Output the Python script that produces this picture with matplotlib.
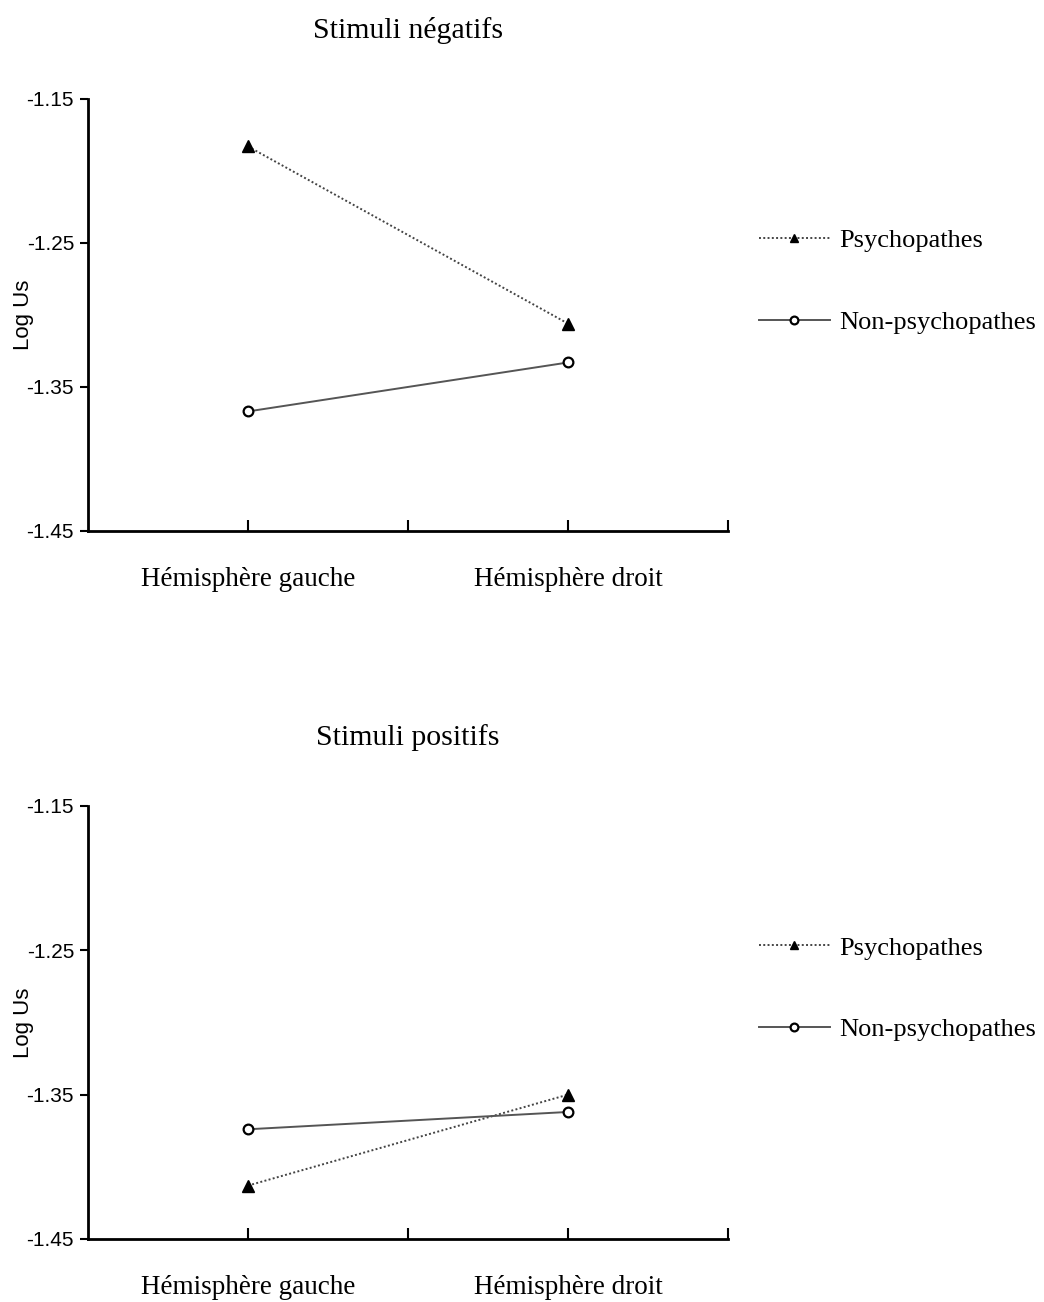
import matplotlib.pyplot as plt

# Données
hemispheres = ['Hémisphère gauche', 'Hémisphère droit']
psy_negatif = [-1.183, -1.306]
nonpsy_negatif = [-1.367, -1.333]
psy_positif = [-1.413, -1.350]
nonpsy_positif = [-1.374, -1.362]
titres = ['Stimuli négatifs', 'Stimuli positifs']
yticks = [-1.45, -1.35, -1.25, -1.15]

serif = 'Liberation Serif'
sans = 'Liberation Sans'

fig = plt.figure(figsize=(10.44, 13.02), dpi=100)
ax1 = fig.add_axes([0.0843, 0.5922, 0.613, 0.3318])
ax2 = fig.add_axes([0.0843, 0.0484, 0.613, 0.3326])

panneaux = [(ax1, psy_negatif, nonpsy_negatif, titres[0]),
            (ax2, psy_positif, nonpsy_positif, titres[1])]

x = [0, 1]
for ax, psy, nonpsy, titre in panneaux:
    ax.plot(x, psy, linestyle=(0, (1, 1.2)), color='#444444', lw=1.4,
            marker='^', markersize=8, markerfacecolor='black',
            markeredgecolor='black', label='Psychopathes')
    ax.plot(x, nonpsy, linestyle='-', color='#555555', lw=1.4,
            marker='o', markersize=7, markerfacecolor='white',
            markeredgecolor='black', markeredgewidth=1.6,
            label='Non-psychopathes')

    ax.set_xlim(-0.5, 1.5)
    ax.set_ylim(-1.45, -1.15)
    ax.set_yticks(yticks)
    ax.set_yticklabels([f'{v:.2f}' for v in yticks], fontfamily=sans, fontsize=15)
    ax.set_xticks([0, 0.5, 1, 1.5])
    ax.set_xticklabels([hemispheres[0], '', hemispheres[1], ''],
                       fontfamily=serif, fontsize=19.5)
    ax.tick_params(axis='x', direction='in', length=8, width=1.5, pad=26)
    ax.tick_params(axis='y', direction='out', length=6, width=1.5, pad=4)
    for s in ['top', 'right']:
        ax.spines[s].set_visible(False)
    for s in ['left', 'bottom']:
        ax.spines[s].set_linewidth(2)
    ax.set_ylabel('Log Us', fontfamily=sans, fontsize=16)
    ax.yaxis.set_label_coords(-0.084, 0.5)
    ax.set_title(titre, fontfamily=serif, fontsize=21.5, pad=44)
    ax.legend(loc='center left', bbox_to_anchor=(1.048, 0.578), frameon=False,
              prop={'family': serif, 'size': 19}, handlelength=2.7,
              handletextpad=0.35, labelspacing=2.2, borderpad=0,
              borderaxespad=0, markerscale=0.8)

fig.savefig('out.png', dpi=100)
